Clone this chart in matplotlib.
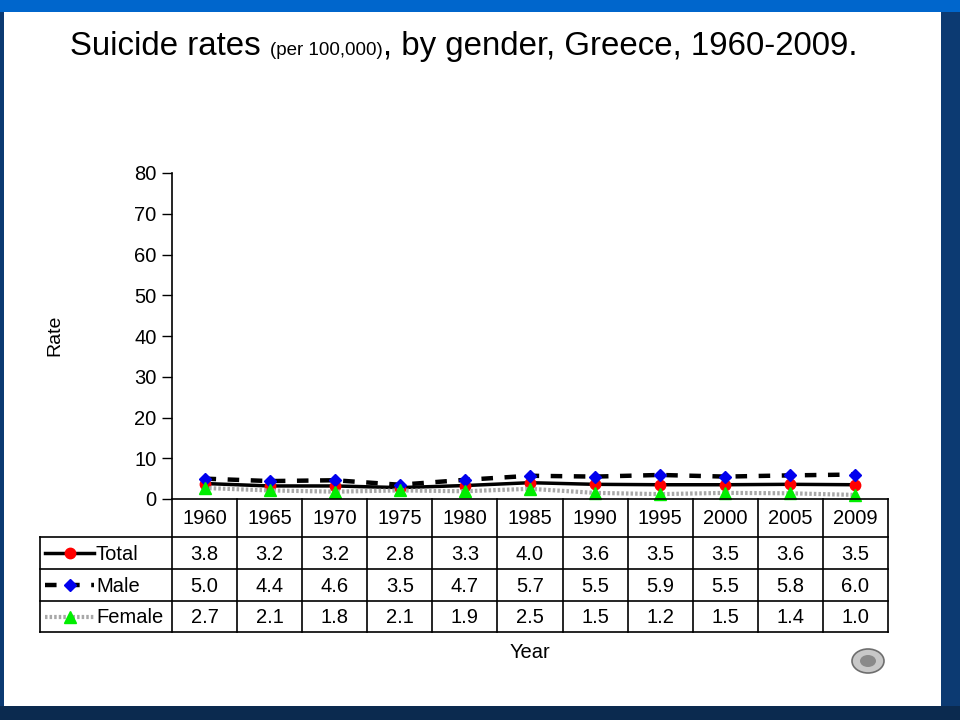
import matplotlib.pyplot as plt
from matplotlib.patches import Rectangle, Circle
from matplotlib.lines import Line2D

# dados
anos = ["1960", "1965", "1970", "1975", "1980", "1985", "1990", "1995", "2000", "2005", "2009"]
total = [3.8, 3.2, 3.2, 2.8, 3.3, 4.0, 3.6, 3.5, 3.5, 3.6, 3.5]
male = [5.0, 4.4, 4.6, 3.5, 4.7, 5.7, 5.5, 5.9, 5.5, 5.8, 6.0]
female = [2.7, 2.1, 1.8, 2.1, 1.9, 2.5, 1.5, 1.2, 1.5, 1.4, 1.0]
series_names = ["Total", "Male", "Female"]
y_ticks = [0, 10, 20, 30, 40, 50, 60, 70, 80]

W, H = 960, 720
plt.rcParams['font.family'] = ['Liberation Sans', 'DejaVu Sans']

fig = plt.figure(figsize=(W / 100, H / 100), dpi=100)
fig.patch.set_facecolor("#0c3a72")


def fx(x):
    return x / W


def fy(y):
    return 1 - y / H


# fundo do slide (zorder negativo pra ficar atrás do eixo)
fig.patches.append(Rectangle((0, fy(720)), 1, 14 / H, transform=fig.transFigure,
                             facecolor="#0b2a4f", edgecolor="none", zorder=-3))
fig.patches.append(Rectangle((0, fy(12)), 1, 12 / H, transform=fig.transFigure,
                             facecolor="#0066cc", edgecolor="none", zorder=-3))
fig.patches.append(Rectangle((fx(4), fy(706)), fx(941) - fx(4), (706 - 12) / H,
                             transform=fig.transFigure, facecolor="white",
                             edgecolor="none", zorder=-2))

# eixo principal
ax_l, ax_r, ax_t, ax_b = 172, 888, 173, 499
ax = fig.add_axes([fx(ax_l), fy(ax_b), fx(ax_r) - fx(ax_l), (ax_b - ax_t) / H])
ax.set_facecolor("none")
ax.set_zorder(2)
x = list(range(len(anos)))

estilos = {
    "Total": dict(color="black", lw=2.5, ls="-", marker="o", mfc="#ff0000", mec="#ff0000", ms=7.5, zorder=3),
    "Male": dict(color="black", lw=3.2, ls=(0, (2.6, 2.6)), marker="D", mfc="#0000ee", mec="#0000ee", ms=6.5, zorder=4),
    "Female": dict(color="#a8a8a8", lw=3.0, ls=(0, (0.6, 0.5)), marker="^", mfc="#00ee00", mec="#00ee00", ms=8.5, zorder=5),
}
valores = {"Total": total, "Male": male, "Female": female}
for nome in series_names:
    ax.plot(x, valores[nome], clip_on=False, **estilos[nome])

ax.set_xlim(-0.5, len(anos) - 0.5)
ax.set_ylim(0, 80)
ax.set_yticks(y_ticks)
ax.tick_params(axis="y", direction="out", length=7, width=1, labelsize=14.5, pad=4)
ax.set_xticks([])
for s in ["top", "right", "bottom"]:
    ax.spines[s].set_visible(False)
ax.spines["left"].set_linewidth(1.2)

fig.text(fx(55), fy(335), "Rate", rotation=90, ha="center", va="center", fontsize=14, zorder=5)

# tabela embaixo
col_w = (ax_r - ax_l) / len(anos)
row_ys = [499, 537, 569, 601, 632]
lab_l = 40
lw_t = 1.2
fs_tab = 14.5


def hline(x0, x1, y):
    fig.lines.append(Line2D([fx(x0), fx(x1)], [fy(y), fy(y)], transform=fig.transFigure,
                            color="black", lw=lw_t, zorder=5))


def vline(xx, y0, y1):
    fig.lines.append(Line2D([fx(xx), fx(xx)], [fy(y0), fy(y1)], transform=fig.transFigure,
                            color="black", lw=lw_t, zorder=5))


hline(ax_l, ax_r, row_ys[0])
for y in row_ys[1:]:
    hline(lab_l, ax_r, y)
vline(lab_l, row_ys[1], row_ys[-1])
for i in range(len(anos) + 1):
    vline(ax_l + i * col_w, row_ys[0], row_ys[-1])

for i, a in enumerate(anos):
    cx = ax_l + (i + 0.5) * col_w
    fig.text(fx(cx), fy((row_ys[0] + row_ys[1]) / 2 + 1), a, ha="center", va="center",
             fontsize=fs_tab, zorder=6)

for r, nome in enumerate(series_names):
    cy = (row_ys[r + 1] + row_ys[r + 2]) / 2 + 1
    for i, v in enumerate(valores[nome]):
        cx = ax_l + (i + 0.5) * col_w
        fig.text(fx(cx), fy(cy), f"{v:.1f}", ha="center", va="center", fontsize=fs_tab, zorder=6)
    # amostra da legenda
    st = dict(estilos[nome])
    st.pop("zorder")
    fig.lines.append(Line2D([fx(45), fx(94)], [fy(cy - 1), fy(cy - 1)], transform=fig.transFigure,
                            zorder=6, **{k: v for k, v in st.items() if k != "marker"}))
    fig.lines.append(Line2D([fx(69.5)], [fy(cy - 1)], transform=fig.transFigure, ls="none",
                            marker=st["marker"], mfc=st["mfc"], mec=st["mec"], ms=st["ms"], zorder=7))
    fig.text(fx(96), fy(cy), nome, ha="left", va="center", fontsize=fs_tab, zorder=6)

fig.text(fx(530), fy(652), "Year", ha="center", va="center", fontsize=fs_tab, zorder=6)

# emblema (aproximação)
fig.patches.append(Circle((fx(868), fy(661)), 12 / H, transform=fig.transFigure,
                          facecolor="#c8c8c8", edgecolor="#6e6e6e", lw=1.2, zorder=6))
fig.patches.append(Circle((fx(868), fy(661)), 6 / H, transform=fig.transFigure,
                          facecolor="#8a8a8a", edgecolor="none", zorder=7))

# título em pedaços
fig.canvas.draw()
rend = fig.canvas.get_renderer()
partes = [("Suicide rates ", 23.8), ("(per 100,000)", 13.5), (", by gender, Greece, 1960-2009.", 23.8)]
xpos = fx(70)
for txt, tam in partes:
    t = fig.text(xpos, fy(55), txt, fontsize=tam, ha="left", va="baseline", zorder=6)
    bb = t.get_window_extent(renderer=rend)
    xpos += bb.width / W

fig.savefig("out.png", dpi=100, facecolor=fig.get_facecolor())
